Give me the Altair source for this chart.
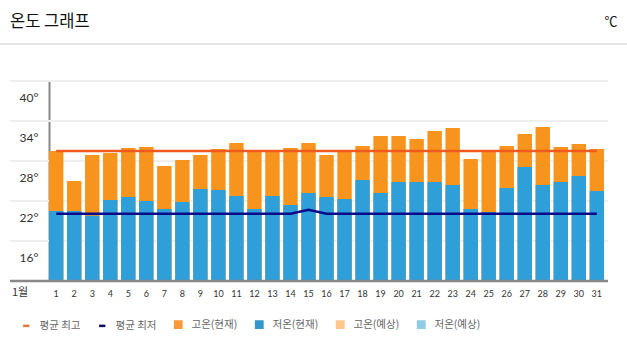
import altair as alt
import pandas as pd

days = list(range(1, 32))
high = [29.5, 25.0, 28.9, 29.2, 29.95, 30.1, 27.25, 28.15, 28.9, 29.8, 30.7, 29.5, 29.5, 29.95, 30.7,
        28.9, 29.5, 30.25, 31.75, 31.75, 31.3, 32.5, 32.95, 28.3, 29.5, 30.25, 32.05, 33.1, 30.1, 30.55, 29.8]
low = [20.5, 20.5, 19.8, 22.15, 22.6, 22.0, 20.8, 21.85, 23.8, 23.65, 22.75, 20.8, 22.75, 21.4, 23.2,
       22.6, 22.3, 25.15, 23.2, 24.85, 24.85, 24.85, 24.4, 20.8, 20.35, 23.95, 27.1, 24.4, 24.85, 25.75, 23.5]
avg_high = [29.5, 29.5, 29.5, 29.5, 29.5, 29.5, 29.5, 29.5, 29.5, 29.5, 29.5, 29.5, 29.5, 29.5, 29.5,
            29.5, 29.5, 29.5, 29.5, 29.5, 29.5, 29.5, 29.5, 29.5, 29.5, 29.5, 29.5, 29.5, 29.5, 29.5, 29.5]
avg_low = [20.1, 20.1, 20.1, 20.1, 20.1, 20.1, 20.1, 20.1, 20.1, 20.1, 20.1, 20.1, 20.1, 20.1, 20.7,
           20.1, 20.1, 20.1, 20.1, 20.1, 20.1, 20.1, 20.1, 20.1, 20.1, 20.1, 20.1, 20.1, 20.1, 20.1, 20.1]
grid_values = [16, 22, 28, 34, 40]
axis_min = 10
legend_names = ["평균 최고", "평균 최저", "고온(현재)", "저온(현재)", "고온(예상)", "저온(예상)"]
legend_colors = ["#e0793e", "#0d0d6e", "#f7983a", "#3399cc", "#fcc68c", "#8fcbe4"]
legend_shapes = ["stroke", "stroke", "square", "square", "square", "square"]
title_text = "온도 그래프"
unit_text = "℃"
month_text = "1월"

W, H = 559, 200
FONT = "Noto Sans CJK KR"

df = pd.DataFrame({"day": days, "high": high, "low": low,
                   "avg_high": avg_high, "avg_low": avg_low})
df["base"] = axis_min

yscale = alt.Scale(domain=[10, 40], zero=False, nice=False)
xscale = alt.Scale(paddingInner=0.2, paddingOuter=0.11, align=0)

x_axis = alt.Axis(title=None, labelAngle=0, ticks=False, domain=False, labelFontSize=9,
                  labelColor="#333", labelPadding=8, labelFont="Lato", grid=False)
y_axis = alt.Axis(title=None, values=grid_values, labelExpr="datum.value + '°'", labelOffset=16,
                  ticks=False, grid=False, domainColor="#888888", domainWidth=2,
                  labelFontSize=12, labelColor="#333", labelPadding=11, labelFont="Lato")

grid = alt.Chart(pd.DataFrame({"v": grid_values})).mark_rule(color="#efefef", strokeWidth=2).encode(
    y=alt.Y("v:Q", scale=yscale, axis=y_axis), x=alt.value(-39), x2=alt.value(W))

bars_high = alt.Chart(df).mark_bar(color="#f7941e").encode(
    x=alt.X("day:O", scale=xscale, axis=x_axis),
    y=alt.Y("high:Q", scale=yscale, axis=y_axis),
    y2="base:Q")
bars_low = alt.Chart(df).mark_bar(color="#2e9fd9").encode(
    x=alt.X("day:O", scale=xscale, axis=x_axis),
    y=alt.Y("low:Q", scale=yscale, axis=y_axis),
    y2="base:Q")

base_line = alt.Chart(pd.DataFrame({"v": [axis_min]})).mark_rule(color="#888888", strokeWidth=2.5).encode(
    y=alt.Y("v:Q", scale=yscale, axis=y_axis), x=alt.value(-39), x2=alt.value(W))

line_high = alt.Chart(df).mark_line(color="#f05a1e", strokeWidth=2.5).encode(
    x=alt.X("day:O", scale=xscale, axis=x_axis),
    y=alt.Y("avg_high:Q", scale=yscale, axis=y_axis))
line_low = alt.Chart(df).mark_line(color="#0a0a8a", strokeWidth=2.5).encode(
    x=alt.X("day:O", scale=xscale, axis=x_axis),
    y=alt.Y("avg_low:Q", scale=yscale, axis=y_axis))

title = alt.Chart(pd.DataFrame({"t": [title_text]})).mark_text(
    align="left", baseline="middle", fontSize=16.5, font=FONT, color="#111").encode(
    text="t:N", x=alt.value(-39), y=alt.value(-59))
unit = alt.Chart(pd.DataFrame({"t": [unit_text]})).mark_text(
    align="center", baseline="middle", fontSize=13, font=FONT, color="#111").encode(
    text="t:N", x=alt.value(562), y=alt.value(-59))
sep = alt.Chart(pd.DataFrame({"t": [0]})).mark_rule(color="#dddddd", strokeWidth=1.5).encode(
    x=alt.value(-49), x2=alt.value(578), y=alt.value(-37))
month = alt.Chart(pd.DataFrame({"t": [month_text]})).mark_text(
    align="center", baseline="middle", fontSize=11, font=FONT, color="#333").encode(
    text="t:N", x=alt.value(-29), y=alt.value(12 + H))

leg_df = pd.DataFrame({"s": legend_names})
legend_layer = alt.Chart(leg_df).mark_point(filled=True, opacity=1).encode(
    x=alt.value(-500), y=alt.value(-500),
    fill=alt.Fill("s:N", scale=alt.Scale(domain=legend_names, range=legend_colors), title=None,
                  legend=alt.Legend(orient="none", legendX=-28, legendY=238, direction="horizontal",
                                    labelFont=FONT, labelFontSize=10.5, labelColor="#666",
                                    symbolOpacity=1, symbolSize=40, symbolStrokeWidth=2.5,
                                    columnPadding=13, labelOffset=8, title=None)),
    stroke=alt.Stroke("s:N", scale=alt.Scale(domain=legend_names, range=legend_colors), title=None),
    shape=alt.Shape("s:N", scale=alt.Scale(domain=legend_names, range=legend_shapes), title=None),
)

chart = alt.layer(grid, bars_high, bars_low, base_line, line_high, line_low,
                  title, unit, sep, month, legend_layer).properties(
    width=W, height=H,
    padding={"left": 49, "top": 81, "right": 19, "bottom": 72},
    autosize=alt.AutoSizeParams(type="none"),
).configure_view(stroke=None)

chart.save("out.html", embed_options={"renderer": "svg", "actions": False})
